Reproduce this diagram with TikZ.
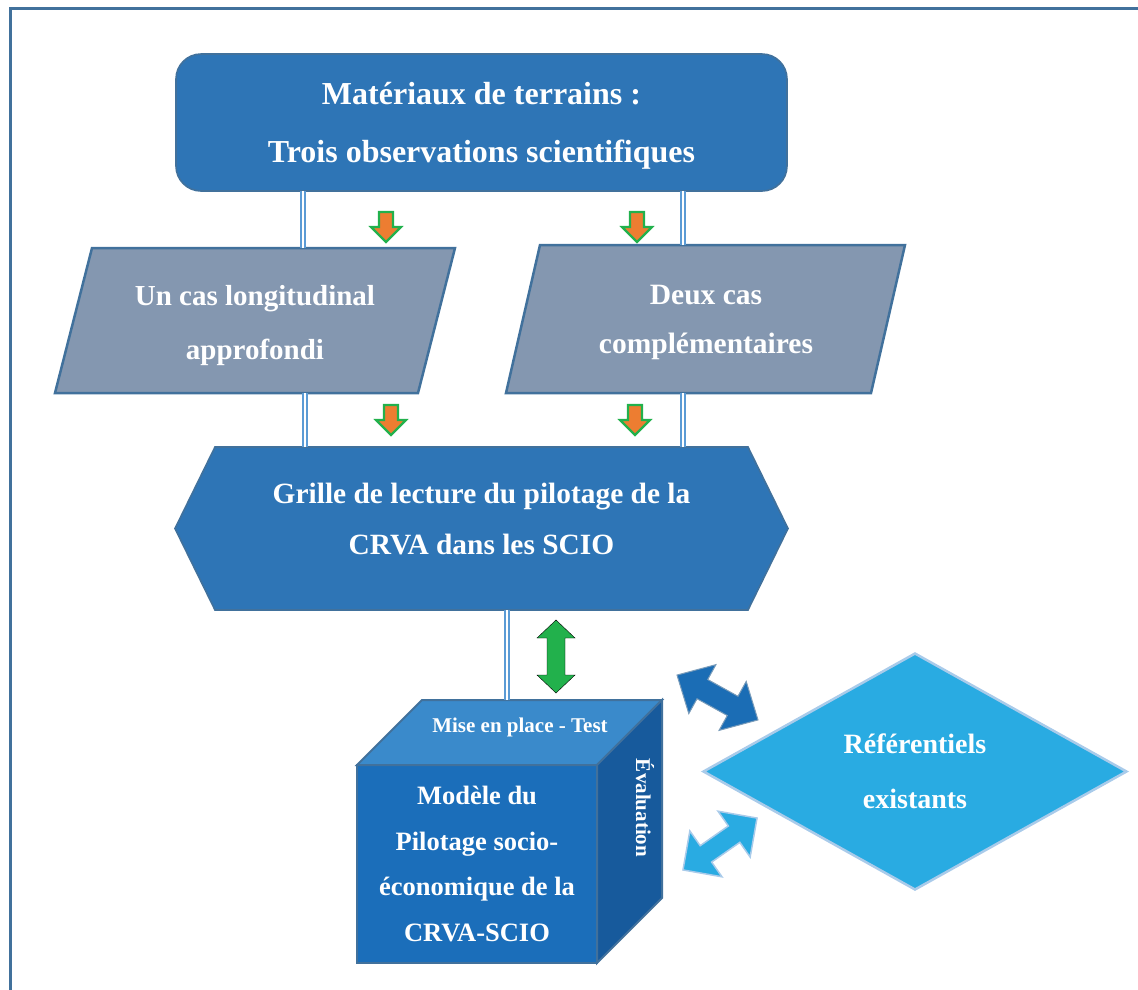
\documentclass[tikz,border=0pt]{standalone}
\usepackage{fontspec}
\setmainfont{Liberation Serif}
\usetikzlibrary{shapes.geometric}
\definecolor{boxblue}{HTML}{2E75B6}
\definecolor{edgeblue}{HTML}{41719C}
\definecolor{slateblue}{HTML}{8497B0}
\definecolor{linkblue}{HTML}{5B9BD5}
\definecolor{cubefront}{HTML}{1B6EBA}
\definecolor{cubetop}{HTML}{3A8ACB}
\definecolor{cubeside}{HTML}{175A9C}
\definecolor{skyblue}{HTML}{29ABE2}
\definecolor{rimblue}{HTML}{A9CBEA}
\definecolor{deepblue}{HTML}{1B6DB5}
\definecolor{leafgreen}{HTML}{22B14C}
\definecolor{pumpkin}{HTML}{ED7D31}
\newcommand{\BoxFont}[2]{\fontsize{#1}{#2}\selectfont\bfseries}
\newcommand{\DropArrow}[1]{%
  \draw[droparrow,shift={#1},rotate=-90] (15,0) -- (0,15) -- (0,7) -- (-15,7) -- (-15,-7) -- (0,-7) -- (0,-15) -- cycle;
}
\newcommand{\TwinArrow}[7]{%
  \draw[#1,shift={#2},rotate=#3] (-#4,0) -- ({-#4+#6},#5) -- ({-#4+#6},#7) -- ({#4-#6},#7) -- ({#4-#6},#5) -- (#4,0)
    -- ({#4-#6},-#5) -- ({#4-#6},-#7) -- ({-#4+#6},-#7) -- ({-#4+#6},-#5) -- cycle;
}
\begin{document}
\begin{tikzpicture}[x=1pt,y=-1pt,text=white,
  boxtext/.style={align=center,inner sep=0pt},
  framenode/.style={inner sep=0pt,outer sep=0pt},
  bluebox/.style={fill=boxblue,draw=edgeblue,line width=1.6pt,line join=miter},
  slateframe/.style={fill=slateblue,draw=edgeblue,line width=2.5pt,line join=miter},
  link/.style={draw=linkblue,line width=1.5pt,double=white,double distance=2.5pt},
  droparrow/.style={fill=pumpkin,draw=leafgreen,line width=2.2pt,line join=miter},
  cubeface/.style={draw=edgeblue,line width=2pt,line join=miter}]
  \useasboundingbox (0,0) rectangle (1138,989);
  \draw[edgeblue,line width=3pt] (10,8.5) rectangle (1160,1010);
  \node[bluebox,framenode,rounded corners=25pt,minimum width=611pt,minimum height=137pt] (terrain) at (481.5,122.5) {};
  \node[boxtext,font=\BoxFont{32}{58}] (terraintext) at (481.5,126) {Matériaux de terrains :\\Trois observations scientifiques};
  \node[framenode,minimum width=363pt,minimum height=145pt] (longi) at (255,320.5) {};
  \draw[slateframe] ([xshift=18.5pt]longi.north west) -- ([xshift=18.5pt]longi.north east)
    -- ([xshift=-18.5pt]longi.south east) -- ([xshift=-18.5pt]longi.south west) -- cycle;
  \node[boxtext,font=\BoxFont{29}{54}] (longitext) at (255,326) {Un cas longitudinal\\approfondi};
  \node[framenode,minimum width=365pt,minimum height=148pt] (compl) at (705.5,319) {};
  \draw[slateframe] ([xshift=17pt]compl.north west) -- ([xshift=17pt]compl.north east)
    -- ([xshift=-17pt]compl.south east) -- ([xshift=-17pt]compl.south west) -- cycle;
  \node[boxtext,font=\BoxFont{29.5}{49}] (compltext) at (706,322) {Deux cas\\complémentaires};
  \node[framenode,minimum width=533pt,minimum height=163pt] (grille) at (481.5,528.5) {};
  \draw[bluebox] (grille.north west) -- (grille.north east) -- ([xshift=40pt]grille.east)
    -- (grille.south east) -- (grille.south west) -- ([xshift=-40pt]grille.west) -- cycle;
  \node[boxtext,font=\BoxFont{29.4}{51}] (grilletext) at (481.5,519) {Grille de lecture du pilotage de la\\CRVA dans les SCIO};
  \draw[link] ([xshift=-178.5pt]terrain.south) -- ([xshift=-178.5pt]terrain.south |- longi.north);
  \draw[link] ([xshift=201.5pt]terrain.south) -- ([xshift=201.5pt]terrain.south |- compl.north);
  \draw[link] ([xshift=50pt]longi.south) -- ([xshift=50pt]longi.south |- grille.north);
  \draw[link] ([xshift=-22.5pt]compl.south) -- ([xshift=-22.5pt]compl.south |- grille.north);
  \DropArrow{(386,227)}
  \DropArrow{(637,227)}
  \DropArrow{(391,420)}
  \DropArrow{(635,420)}
  \node[cubeface,framenode,fill=cubefront,minimum width=240pt,minimum height=198pt,
    boxtext,font=\BoxFont{26.5}{45.7}] (modele) at (477,864) {Modèle du\\Pilotage socio-\\économique de la\\CRVA-SCIO};
  \draw[cubeface,fill=cubetop] (modele.north west) -- ([shift={(65,-65)}]modele.north west)
    -- ([shift={(65,-65)}]modele.north east) -- (modele.north east) -- cycle;
  \draw[cubeface,fill=cubeside] (modele.north east) -- ([shift={(65,-65)}]modele.north east)
    -- ([shift={(65,-65)}]modele.south east) -- (modele.south east) -- cycle;
  \coordinate (backedge) at ([shift={(65,-65)}]modele.north west);
  \node[boxtext,font=\BoxFont{21}{21}] (mise) at (520,727) {Mise en place - Test};
  \node[boxtext,rotate=-90,font=\BoxFont{21}{21}] (evalu) at (645,808) {Évaluation};
  \draw[link] ([xshift=25.5pt]grille.south) -- ([xshift=25.5pt]grille.south |- backedge);
  \TwinArrow{fill=leafgreen}{(556,656.5)}{90}{36.5}{19}{18}{9}
  \node[diamond,fill=skyblue,draw=rimblue,line width=2.5pt,minimum width=424pt,minimum height=237pt,
    boxtext,font=\BoxFont{28}{55}] (referent) at (915,771.5) {Référentiels\\existants};
  \TwinArrow{fill=deepblue,draw=edgeblue!70,line width=1pt}{(717.5,697.5)}{-29}{46.3}{28}{29}{11}
  \TwinArrow{fill=skyblue,draw=rimblue,line width=1.5pt}{(720,844)}{35}{45.2}{28}{28}{10}
\end{tikzpicture}
\end{document}
